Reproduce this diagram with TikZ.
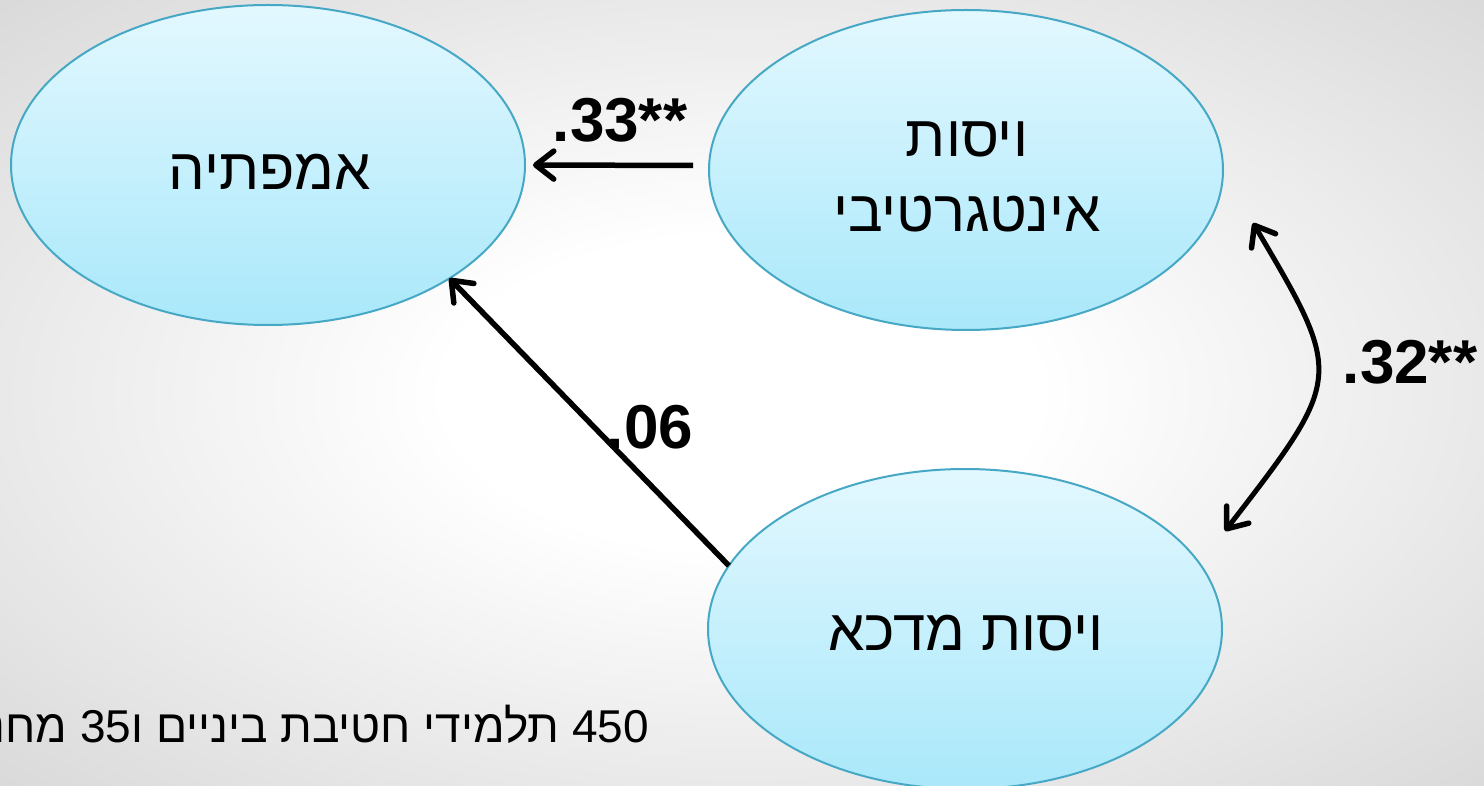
\documentclass[tikz,border=0pt]{standalone}
\usepackage{fontspec}
\setmainfont{Liberation Sans}
\newfontfamily\hebfont[Script=Hebrew]{Liberation Sans}
\TeXXeTstate=1
\usetikzlibrary{shapes.geometric,arrows.meta}
\definecolor{ellTop}{HTML}{E3F8FF}
\definecolor{ellBot}{HTML}{A9E8FA}
\definecolor{ellLine}{HTML}{46A8C4}
\definecolor{bgOut}{HTML}{C4C4C4}
\pgfdeclareradialshading{bgshade}{\pgfpoint{0bp}{0bp}}{color(0bp)=(white); color(10bp)=(white); color(50bp)=(bgOut); color(60bp)=(bgOut)}
\begin{document}
\begin{tikzpicture}[x=1pt,y=-1pt,
  bubble/.style={ellipse, draw=ellLine, line width=2pt, top color=ellTop, bottom color=ellBot,
    minimum width=514pt, minimum height=320pt, inner sep=0pt, outer sep=0pt},
  bubtext/.style={font=\hebfont\fontsize{58}{75}\selectfont, inner sep=0pt, anchor=base},
  barbtip/.tip={Straight Barb[length=18pt,width=28pt,line width=5.5pt,round]},
  arr/.style={line width=5.5pt, -barbtip},
  coef/.style={font=\bfseries\fontsize{62}{70}\selectfont, inner sep=0pt},
  note/.style={font=\hebfont\fontsize{46}{56}\selectfont, inner sep=0pt}]
\useasboundingbox (0,0) rectangle (1484,786);
\clip (0,0) rectangle (1484,786);
\shade[shading=bgshade] (0,0) rectangle (1484,786);

\node[bubble] (emp) at (268,165) {};
\node[bubble] (intg) at (966,170) {};
\node[bubble] (supp) at (965,629) {};

\node[bubtext] (empT) at (270,190) {\beginR אמפתיה\endR};
\node[bubtext] (intgA) at (967,157) {\beginR ויסות\endR};
\node[bubtext] (intgB) at (967,232) {\beginR אינטגרטיבי\endR};
\node[bubtext] (suppT) at (966,650) {\beginR ויסות מדכא\endR};

\draw[arr, shorten <=16pt, shorten >=8pt] (intg.179.55) -- (emp.-0.67);
\draw[arr] (supp.165.7) -- (emp.-32.5);

\coordinate (c1) at (1253,223);
\coordinate (c2) at (1225,531);
\draw[line width=5pt, barbtip-barbtip] (c1) .. controls (1344,377) .. (c2);

\node[coef] (l33) at (620,120) {.33**};
\node[coef] (l06) at (650,427) {.06};
\node[coef] (l32) at (1410,362) {.32**};

\node[note, anchor=base east] (txt) at (649,742) {\beginR 450 תלמידי חטיבת ביניים ו35 מחנכים\endR};
\end{tikzpicture}
\end{document}
